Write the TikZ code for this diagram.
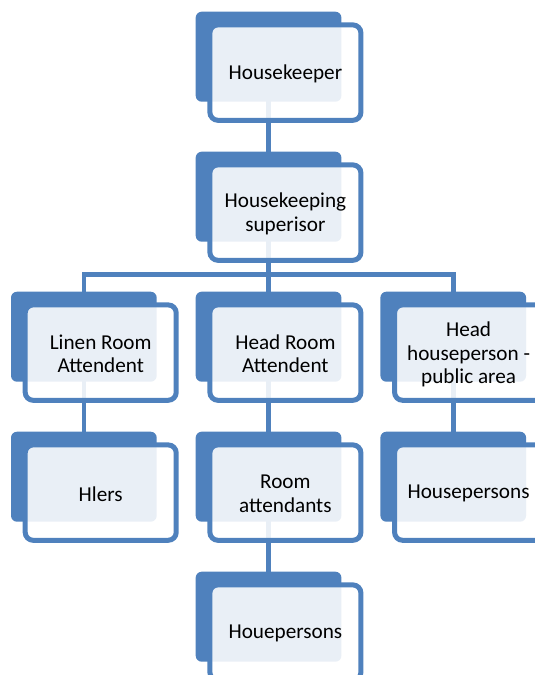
\documentclass[tikz,border=0pt]{standalone}
\usepackage{fontspec}
\setmainfont{Carlito}
\usetikzlibrary{backgrounds,calc}
\definecolor{ofblue}{HTML}{4F81BD}
\tikzset{
  backbox/.style={fill=ofblue, rounded corners=6pt, minimum width=145.7pt, minimum height=90pt, inner sep=0pt},
  frontbox/.style={draw=ofblue, line width=5pt, fill=white, fill opacity=0.88, text opacity=1,
     rounded corners=8pt, minimum width=151pt, minimum height=95.4pt, inner sep=0pt},
  txt/.style={align=center, inner sep=0pt, font=\fontsize{21.2}{23.6}\selectfont},
  conn/.style={draw=ofblue, line width=4.5pt, line join=miter}
}
\begin{document}
\begin{tikzpicture}[x=1pt,y=-1pt]
\useasboundingbox (0,0) rectangle (535,675);
% back boxes
\node[backbox] (b1) at (268.55,56.7) {};
\node[backbox] (b2) at (268.55,196.7) {};
\node[backbox] (b3a) at (83.85,336.7) {};
\node[backbox] (b3b) at (268.55,336.7) {};
\node[backbox] (b3c) at (453.25,336.7) {};
\node[backbox] (b4a) at (83.85,476.7) {};
\node[backbox] (b4b) at (268.55,476.7) {};
\node[backbox] (b4c) at (453.25,476.7) {};
\node[backbox] (b5) at (268.55,616.7) {};
% front boxes
\foreach \n in {1,2,3a,3b,3c,4a,4b,4c,5}{
  \node[frontbox] (f\n) at ($(b\n)+(16.85,15.9)$) {};
}
% texts
\node[txt] (t1) at ($(f1)+(0,1.2)$) {Housekeeper};
\node[txt] (t2) at ($(f2)+(0,1.2)$) {Housekeeping\\superisor};
\node[txt] (t3a) at ($(f3a)+(0,1.2)$) {Linen Room\\Attendent};
\node[txt] (t3b) at ($(f3b)+(0,1.2)$) {Head Room\\Attendent};
\node[txt] (t3c) at ($(f3c)+(-1.5,1.8)$) {Head\\houseperson -\\public area};
\node[txt] (t4a) at ($(f4a)+(0,1.2)$) {Hlers};
\node[txt] (t4b) at ($(f4b)+(0,1.2)$) {Room\\attendants};
\node[txt] (t4c) at ($(f4c)+(-1.5,1.2)$) {Housepersons};
\node[txt] (t5) at ($(f5)+(0,1.2)$) {Houepersons};
% connectors
\coordinate (bar) at (0,274.5);
\begin{scope}[on background layer]
\draw[conn] (b1.center) -- (b2.center);
\draw[conn] (b2.center) -- (b2.center |- bar);
\draw[conn] (b3a.center) -- (b3a.center |- bar) -- (b3c.center |- bar) -- (b3c.center);
\draw[conn] (b3b.center |- bar) -- (b3b.center);
\draw[conn] (b3a.center) -- (b4a.center);
\draw[conn] (b3b.center) -- (b4b.center);
\draw[conn] (b3c.center) -- (b4c.center);
\draw[conn] (b4b.center) -- (b5.center);
\end{scope}
\end{tikzpicture}
\end{document}
